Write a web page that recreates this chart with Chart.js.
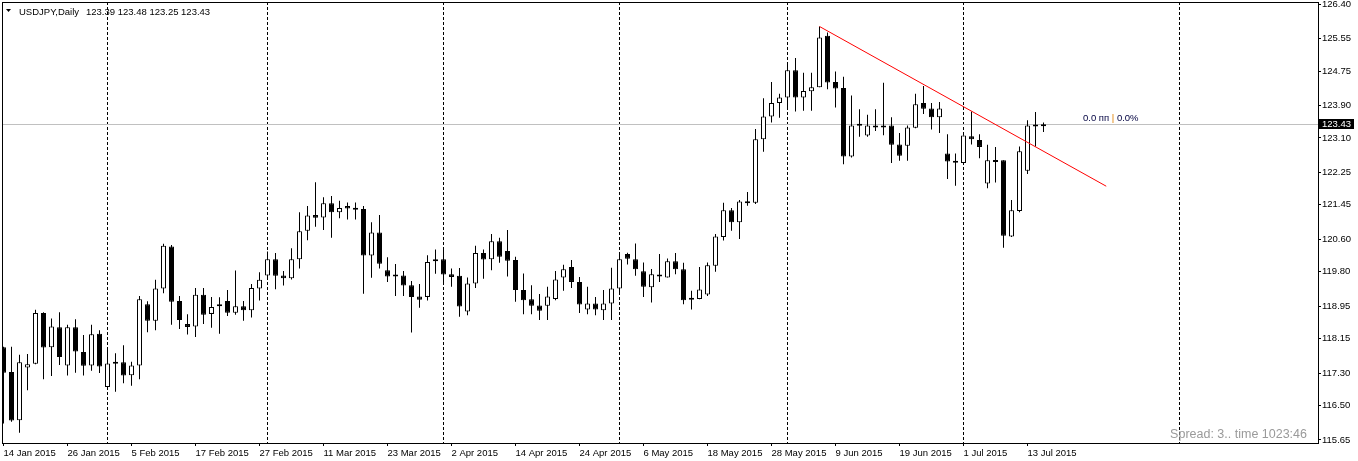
<!DOCTYPE html>
<html>
<head>
<meta charset="utf-8">
<script src="https://cdn.jsdelivr.net/npm/chart.js@4/dist/chart.umd.min.js"></script>
<style>
  html, body { margin: 0; padding: 0; background: #fff; }
  #wrap { width: 1358px; height: 461px; position: relative; }
</style>
</head>
<body>
<div id="wrap"><canvas id="chart"></canvas></div>
<script>
/* ── Données (USDJPY, Daily) ── */
const opens = [
  117.94, 117.33, 116.14, 117.44, 117.53, 118.78, 117.94, 118.43, 117.49, 118.43,
  117.82, 117.49, 118.27, 116.96, 117.57, 117.57, 117.25, 117.49, 119.00, 118.59,
  119.39, 120.42, 119.08, 118.51, 118.45, 119.23, 118.76, 118.95, 119.08, 118.79,
  118.95, 118.85, 119.39, 119.71, 120.11, 119.71, 119.64, 120.11, 120.81, 121.20,
  121.14, 121.49, 121.27, 121.42, 121.37, 121.35, 120.20, 120.77, 119.84, 119.71,
  119.71, 119.47, 119.19, 119.18, 120.06, 120.11, 119.74, 119.70, 118.82, 119.51,
  120.26, 120.11, 120.55, 120.31, 120.09, 119.35, 119.12, 118.97, 118.96, 119.13,
  119.66, 119.92, 119.55, 118.87, 119.02, 118.85, 119.02, 119.39, 120.24, 120.11,
  119.81, 119.42, 119.71, 119.66, 120.06, 119.86, 119.14, 119.13, 119.24, 119.95,
  120.66, 121.32, 121.02, 121.49, 121.50, 123.07, 123.63, 123.96, 124.10, 124.77,
  124.10, 124.25, 124.35, 125.62, 124.48, 124.33, 122.64, 123.42, 123.16, 123.41,
  123.36, 123.41, 122.94, 122.91, 123.35, 123.96, 123.83, 123.61, 122.72, 122.52,
  122.48, 123.14, 123.05, 121.98, 122.55, 122.55, 120.67, 121.30, 122.29, 123.41,
  123.39
];
const highs = [
  117.95, 117.95, 117.75, 117.77, 118.86, 118.80, 118.65, 118.80, 118.49, 118.63,
  118.24, 118.49, 118.36, 117.87, 117.79, 117.99, 117.58, 119.20, 119.07, 119.60,
  120.49, 120.46, 119.20, 118.75, 119.40, 119.40, 119.18, 119.17, 119.35, 119.83,
  119.08, 119.50, 119.79, 120.30, 120.26, 119.82, 120.38, 121.27, 121.42, 122.01,
  121.64, 121.67, 121.55, 121.51, 121.51, 121.42, 121.02, 121.20, 120.16, 119.99,
  119.82, 119.57, 119.50, 120.21, 120.35, 120.38, 119.88, 119.89, 119.66, 120.44,
  120.35, 120.73, 120.64, 120.83, 120.17, 119.76, 119.47, 119.25, 119.43, 119.82,
  119.97, 120.09, 119.67, 119.43, 119.18, 119.35, 119.90, 120.28, 120.27, 120.50,
  120.03, 119.87, 120.24, 120.13, 120.26, 120.02, 119.33, 119.92, 120.03, 120.73,
  121.50, 121.37, 121.57, 121.77, 123.32, 124.08, 124.48, 124.19, 124.97, 125.07,
  124.71, 124.71, 125.85, 125.70, 124.74, 124.61, 124.15, 123.81, 123.67, 123.81,
  124.46, 123.61, 123.22, 123.41, 124.19, 124.38, 123.96, 123.99, 123.19, 122.72,
  123.17, 123.75, 123.19, 122.93, 122.88, 122.55, 121.57, 122.89, 123.54, 123.74,
  123.48
];
const lows = [
  116.06, 116.10, 115.83, 116.88, 117.52, 117.15, 117.23, 117.50, 117.24, 117.31,
  117.24, 117.36, 117.30, 116.91, 116.84, 117.05, 116.99, 117.15, 118.31, 118.36,
  119.27, 118.49, 118.39, 118.25, 118.19, 118.51, 118.42, 118.27, 118.71, 118.74,
  118.59, 118.67, 119.09, 119.60, 119.37, 119.46, 119.61, 119.88, 120.58, 120.91,
  120.83, 120.64, 121.12, 121.09, 121.09, 119.26, 119.65, 119.88, 119.55, 119.20,
  119.20, 118.30, 118.91, 119.09, 119.75, 119.51, 119.43, 118.69, 118.73, 119.40,
  119.63, 119.84, 120.02, 119.68, 119.06, 118.75, 118.75, 118.61, 118.61, 119.10,
  119.33, 119.40, 118.78, 118.75, 118.73, 118.61, 118.61, 119.30, 119.98, 119.70,
  119.18, 119.04, 119.55, 119.66, 119.74, 119.00, 118.87, 119.12, 119.20, 119.80,
  120.57, 120.81, 120.61, 121.43, 121.47, 122.76, 123.48, 123.60, 123.86, 123.75,
  123.77, 123.77, 124.35, 124.30, 123.85, 122.45, 122.62, 123.13, 123.13, 123.27,
  123.17, 122.48, 122.54, 122.54, 123.34, 123.69, 123.31, 123.22, 122.09, 121.92,
  122.48, 122.94, 122.60, 121.86, 122.00, 120.39, 120.66, 121.27, 122.21, 122.89,
  123.25
];
const closes = [
  117.31, 116.13, 117.57, 117.52, 118.78, 117.93, 118.45, 117.70, 118.43, 117.83,
  117.48, 118.26, 117.46, 117.54, 117.53, 117.24, 117.49, 119.12, 118.59, 119.39,
  120.44, 119.06, 118.61, 118.44, 119.23, 118.74, 118.93, 118.99, 118.79, 118.95,
  118.85, 119.40, 119.60, 120.11, 119.70, 119.64, 120.11, 120.80, 121.19, 121.13,
  121.49, 121.27, 121.37, 121.36, 121.33, 120.20, 120.77, 120.00, 119.68, 119.68,
  119.46, 119.18, 119.11, 120.04, 120.11, 119.73, 119.67, 118.94, 119.51, 120.26,
  120.10, 120.55, 120.17, 120.07, 119.35, 119.10, 118.96, 118.84, 119.19, 119.61,
  119.86, 119.55, 118.99, 119.02, 118.87, 119.02, 119.39, 120.11, 120.12, 119.86,
  119.43, 119.74, 119.68, 120.06, 119.86, 119.10, 119.11, 119.36, 119.96, 120.67,
  121.32, 121.02, 121.53, 121.54, 123.07, 123.63, 123.96, 124.10, 124.77, 124.10,
  124.26, 124.35, 125.58, 124.47, 124.32, 122.64, 123.41, 123.40, 123.41, 123.36,
  123.41, 122.93, 122.66, 123.36, 123.93, 123.82, 123.61, 123.83, 122.52, 122.49,
  123.16, 123.07, 122.88, 122.55, 122.51, 120.69, 121.32, 122.77, 123.41, 123.38,
  123.43
];

/* ── Axes ── */
const tickIndex = [0, 8, 16, 24, 32, 40, 48, 56, 64, 72, 80, 88, 96, 104, 112, 120, 128];
const tickLabels = [
  '14 Jan 2015', '26 Jan 2015', '5 Feb 2015', '17 Feb 2015', '27 Feb 2015',
  '11 Mar 2015', '23 Mar 2015', '2 Apr 2015', '14 Apr 2015', '24 Apr 2015',
  '6 May 2015', '18 May 2015', '28 May 2015', '9 Jun 2015', '19 Jun 2015',
  '1 Jul 2015', '13 Jul 2015'
];
const priceTicks = [126.40, 125.55, 124.75, 123.90, 123.10, 122.25, 121.45,
  120.60, 119.80, 118.95, 118.15, 117.30, 116.50, 115.65];
const monthStarts = [13, 33, 55, 77, 98, 120, 147];
const trendLine = [{ x: 102, y: 125.85 }, { x: 137.84, y: 121.91 }];

const SYMBOL = 'USDJPY,Daily';
const SPREAD_TEXT = 'Spread: 3.. time 1023:46';
const FONT = '"Liberation Sans", Arial, sans-serif';

const last = closes.length - 1;
const lastClose = closes[last];

/* ── Décor MT4 : séparateurs, ligne Bid, cadre, textes ── */
const overlay = {
  id: 'overlay',
  beforeDatasetsDraw(chart) {
    const { ctx, chartArea: a, scales: { x, y } } = chart;
    ctx.save();
    ctx.lineWidth = 1;
    ctx.strokeStyle = '#000';
    ctx.setLineDash([3, 2]);
    monthStarts.forEach(i => {
      const px = Math.floor(x.getPixelForValue(i)) + 0.5;
      ctx.beginPath();
      ctx.moveTo(px, a.top);
      ctx.lineTo(px, a.bottom);
      ctx.stroke();
    });
    ctx.setLineDash([]);
    const py = Math.floor(y.getPixelForValue(lastClose)) + 0.5;
    ctx.strokeStyle = '#C0C0C0';
    ctx.beginPath();
    ctx.moveTo(a.left, py);
    ctx.lineTo(a.right, py);
    ctx.stroke();
    ctx.restore();
  },
  afterDraw(chart) {
    const { ctx, chartArea: a, scales: { y } } = chart;
    ctx.save();
    // cadre
    ctx.strokeStyle = '#000';
    ctx.lineWidth = 1;
    ctx.strokeRect(a.left + 0.5, a.top + 0.5, a.right - a.left, a.bottom - a.top);

    // étiquette du prix courant
    const py = Math.floor(y.getPixelForValue(lastClose));
    ctx.fillStyle = '#000';
    ctx.fillRect(a.right + 1, py - 5, 35, 10);
    ctx.fillStyle = '#fff';
    ctx.font = '9.5px ' + FONT;
    ctx.textBaseline = 'middle';
    ctx.fillText(lastClose.toFixed(2), a.right + 4, py + 0.5);

    // titre en haut à gauche
    ctx.fillStyle = '#000';
    ctx.beginPath();
    ctx.moveTo(6, 9); ctx.lineTo(11, 9); ctx.lineTo(8.5, 12); ctx.closePath();
    ctx.fill();
    ctx.textBaseline = 'alphabetic';
    ctx.fillText(SYMBOL, 19, 14.5);
    const ohlc = [opens[last], highs[last], lows[last], closes[last]].map(v => v.toFixed(2)).join(' ');
    ctx.fillText(ohlc, 86, 14.5);

    // écart à la ligne
    let tx = 1083;
    const parts = [['0.0 пп ', '#000040'], ['|', '#E08000'], [' 0.0%', '#000040']];
    parts.forEach(([t, c]) => {
      ctx.fillStyle = c;
      ctx.fillText(t, tx, 120.5);
      tx += ctx.measureText(t).width;
    });

    // spread
    ctx.font = '12.5px ' + FONT;
    ctx.fillStyle = '#9A9A9A';
    ctx.textAlign = 'right';
    ctx.fillText(SPREAD_TEXT, 1307, 438);
    ctx.restore();
  }
};

const bodyColors = closes.map((c, i) => c > opens[i] ? '#FFFFFF' : '#000000');

new Chart(document.getElementById('chart'), {
  data: {
    datasets: [
      {
        type: 'line',
        data: trendLine,
        borderColor: '#FF0000',
        borderWidth: 1,
        pointRadius: 0,
        order: -1
      },
      {
        type: 'bar',
        data: opens.map((o, i) => ({ x: i, y: [o, closes[i]] })),
        backgroundColor: bodyColors,
        borderColor: '#000',
        borderWidth: 1,
        borderSkipped: false,
        barThickness: 5,
        minBarLength: 2,
        inflateAmount: 0,
        grouped: false,
        order: 0
      },
      {
        type: 'bar',
        data: lows.map((l, i) => ({ x: i, y: [l, highs[i]] })),
        backgroundColor: '#000',
        borderWidth: 0,
        barThickness: 1,
        inflateAmount: 0,
        grouped: false,
        order: 1
      }
    ]
  },
  options: {
    responsive: true,
    maintainAspectRatio: false,
    animation: false,
    events: [],
    layout: { padding: { left: 2, top: 2, right: 0, bottom: 0 } },
    plugins: { legend: { display: false }, tooltip: { enabled: false } },
    scales: {
      x: {
        type: 'linear',
        offset: false,
        min: -0.1875,
        max: 164.3125,
        afterBuildTicks: s => { s.ticks = tickIndex.map(v => ({ value: v })); },
        afterFit: s => { s.height = 18; s.paddingLeft = 0; s.paddingRight = 0; },
        border: { display: false },
        grid: { offset: false, drawOnChartArea: false, drawTicks: true, tickLength: 3, color: '#000' },
        ticks: {
          align: 'start',
          autoSkip: false,
          maxRotation: 0,
          padding: 2,
          color: '#000',
          font: { family: FONT, size: 9.5 },
          callback: (v, i) => tickLabels[i]
        }
      },
      y: {
        type: 'linear',
        position: 'right',
        min: 115.576,
        max: 126.454,
        afterBuildTicks: s => { s.ticks = priceTicks.map(v => ({ value: v })); },
        afterFit: s => { s.width = 40; s.paddingTop = 0; s.paddingBottom = 0; },
        border: { display: false },
        grid: { drawOnChartArea: false, drawTicks: true, tickLength: 3, color: '#000' },
        ticks: {
          padding: 1,
          color: '#000',
          font: { family: FONT, size: 9.5 },
          callback: v => v.toFixed(2)
        }
      }
    }
  },
  plugins: [overlay]
});
</script>
</body>
</html>
